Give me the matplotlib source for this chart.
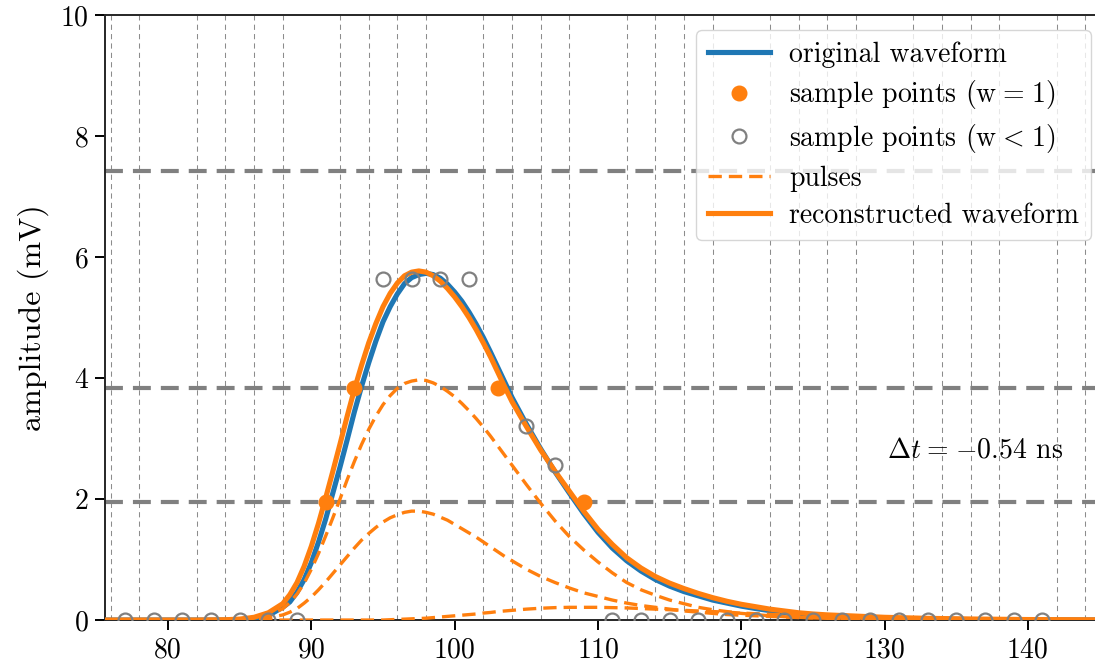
import numpy as np
import matplotlib
matplotlib.use("Agg")
import matplotlib.pyplot as plt

plt.rcParams["font.family"] = "serif"
plt.rcParams["font.serif"] = ["cmr10"]
plt.rcParams["mathtext.fontset"] = "cm"

BLUE = "#1f77b4"
ORANGE = "#ff7f0e"
GREY = "#808080"

# time axis (ns) shared by all waveform curves
t = [75, 80, 82, 84, 85, 86, 87,
     88, 88.5, 89, 89.5, 90, 90.5, 91, 91.5, 92, 92.5, 93, 93.5, 94, 94.5,
     95, 95.5, 96, 96.5, 97, 97.5, 98, 98.5, 99, 99.5, 100, 100.5, 101, 101.5,
     102, 102.5, 103, 103.5, 104,
     105, 106, 107, 108, 109, 110, 111, 112, 113, 114, 115, 116, 117, 118,
     119, 120, 121, 122, 123, 124, 125, 126,
     128, 130, 133, 136, 140, 146]

# original waveform (mV)
original = [0, 0, 0, 0, 0.005, 0.025, 0.075,
            0.21, 0.3, 0.46, 0.67, 0.95, 1.29, 1.67, 2.1, 2.53, 2.98, 3.44, 3.86, 4.25, 4.61,
            4.93, 5.18, 5.39, 5.56, 5.66, 5.71, 5.73, 5.71, 5.65, 5.55, 5.42, 5.27, 5.09, 4.89,
            4.67, 4.43, 4.18, 3.93, 3.68,
            3.24, 2.83, 2.45, 2.1, 1.76, 1.45, 1.19, 0.98, 0.81, 0.67, 0.56, 0.47, 0.4, 0.33,
            0.28, 0.23, 0.19, 0.155, 0.125, 0.1, 0.08, 0.065,
            0.045, 0.03, 0.016, 0.008, 0.003, 0]

# reconstructed waveform (sum of pulses)
reconstructed = [0, 0, 0, 0.005, 0.015, 0.045, 0.12,
                 0.27, 0.42, 0.62, 0.89, 1.22, 1.6, 2.02, 2.46, 2.91, 3.37, 3.81, 4.21, 4.58, 4.9,
                 5.18, 5.4, 5.57, 5.69, 5.75, 5.77, 5.75, 5.69, 5.6, 5.48, 5.34, 5.18, 5.0, 4.8,
                 4.58, 4.35, 4.1, 3.85, 3.61,
                 3.2, 2.81, 2.46, 2.13, 1.8, 1.5, 1.25, 1.03, 0.86, 0.72, 0.61, 0.52, 0.44, 0.37,
                 0.31, 0.26, 0.22, 0.18, 0.15, 0.12, 0.1, 0.085,
                 0.065, 0.045, 0.028, 0.017, 0.008, 0.003]

pulse_1 = [0, 0, 0, 0.003, 0.01, 0.03, 0.083,
           0.186, 0.29, 0.43, 0.61, 0.84, 1.1, 1.39, 1.69, 2.0, 2.32, 2.62, 2.9, 3.15, 3.37,
           3.56, 3.71, 3.83, 3.91, 3.95, 3.97, 3.96, 3.92, 3.86, 3.78, 3.69, 3.58, 3.46, 3.33,
           3.19, 3.04, 2.88, 2.72, 2.56,
           2.24, 1.93, 1.64, 1.38, 1.16, 0.96, 0.78, 0.62, 0.5, 0.41, 0.33, 0.27, 0.21, 0.17,
           0.14, 0.11, 0.09, 0.07, 0.055, 0.045, 0.035, 0.028,
           0.018, 0.011, 0.005, 0.002, 0, 0]

pulse_2 = [0, 0, 0, 0.002, 0.005, 0.015, 0.037,
           0.084, 0.13, 0.19, 0.28, 0.38, 0.5, 0.63, 0.77, 0.91, 1.05, 1.19, 1.32, 1.43, 1.53,
           1.62, 1.69, 1.74, 1.78, 1.8, 1.8, 1.78, 1.75, 1.7, 1.65, 1.58, 1.51, 1.44, 1.37,
           1.29, 1.21, 1.13, 1.05, 0.98,
           0.84, 0.72, 0.62, 0.53, 0.45, 0.39, 0.33, 0.28, 0.24, 0.21, 0.18, 0.15, 0.13, 0.11,
           0.09, 0.08, 0.07, 0.06, 0.05, 0.04, 0.035, 0.03,
           0.02, 0.013, 0.007, 0.004, 0.002, 0]

pulse_3 = [0, 0, 0, 0, 0, 0, 0,
           0, 0, 0, 0, 0, 0, 0, 0, 0, 0, 0, 0, 0, 0,
           0, 0.005, 0.01, 0.015, 0.02, 0.025, 0.03, 0.04, 0.05, 0.06, 0.07, 0.08, 0.09, 0.1,
           0.115, 0.125, 0.14, 0.15, 0.16,
           0.18, 0.195, 0.205, 0.21, 0.21, 0.21, 0.205, 0.2, 0.19, 0.18, 0.17, 0.16, 0.15, 0.14,
           0.13, 0.115, 0.105, 0.095, 0.085, 0.075, 0.065, 0.058,
           0.045, 0.035, 0.022, 0.013, 0.006, 0.002]

pulses = [pulse_1, pulse_2, pulse_3]

# digitised samples every 2 ns
full_t = [91, 93, 103, 109]
full_v = [1.95, 3.83, 3.83, 1.95]
partial_t = [77, 79, 81, 83, 85, 87, 89, 95, 97, 99, 101, 105, 107,
             111, 113, 115, 117, 119, 121, 123, 125, 127, 129, 131, 133, 135, 137, 139, 141]
partial_v = [0, 0, 0, 0, 0, 0, 0, 5.63, 5.63, 5.63, 5.63, 3.2, 2.57,
             0, 0, 0, 0, 0, 0, 0, 0, 0, 0, 0, 0, 0, 0, 0, 0]

# comparator thresholds (mV) and sampling clock edges (ns)
thresholds = [1.95, 3.83, 7.42]
clock_t = list(range(76, 146, 2))

delta_t = -0.54

fig = plt.figure(figsize=(10.95, 6.62), dpi=100)
ax = fig.add_axes([0.0959, 0.0634, 0.914, 0.9139])

ax.set_xticks(clock_t, minor=True)
ax.grid(which="minor", axis="x", color="0.5", lw=0.75, ls=(0, (5, 4)), alpha=0.9)
for th in thresholds:
    ax.axhline(th, color=GREY, lw=3, ls=(0, (4.3, 2.4)), zorder=1.5)

ax.plot(t, original, color=BLUE, lw=3.7, label="original waveform", zorder=3)
ax.plot(full_t, full_v, "o", color=ORANGE, ms=10.5,
        label=r"sample points ($\mathrm{w}\hspace{0.08}=\hspace{0.08}1$)", zorder=6)
ax.plot(partial_t, partial_v, "o", mfc="none", mec=GREY, mew=1.6, ms=10,
        label=r"sample points ($\mathrm{w}\hspace{0.08}<\hspace{0.08}1$)", zorder=6)
for i, p in enumerate(pulses):
    ax.plot(t, p, color=ORANGE, lw=2.4, ls=(0, (4, 2.1)),
            label="pulses" if i == 0 else None, zorder=3.5)
ax.plot(t, reconstructed, color=ORANGE, lw=3.7, label="reconstructed waveform", zorder=4)

ax.text(130.2, 2.81, r"$\Delta t\hspace{0.08}=\hspace{0.08}{-}%.2f$ ns" % abs(delta_t),
        fontsize=20, va="center", ha="left")

ax.set_xlim(75.6, 145.44)
ax.set_ylim(0, 10)
ax.set_xticks([80, 90, 100, 110, 120, 130, 140])
ax.set_yticks([0, 2, 4, 6, 8, 10])
ax.tick_params(which="major", direction="out", length=7, width=1.4, labelsize=20, pad=5)
ax.tick_params(which="minor", length=0)
for s in ax.spines.values():
    s.set_linewidth(1.4)
    s.set_color("0.15")
ax.set_ylabel("amplitude (mV)", fontsize=23, labelpad=8)

ax.legend(loc="upper right", fontsize=20, framealpha=0.8, handlelength=2.25,
          handletextpad=0.7, borderpad=0.4, labelspacing=0.38, borderaxespad=0.55)

fig.savefig("out.png", dpi=100)
